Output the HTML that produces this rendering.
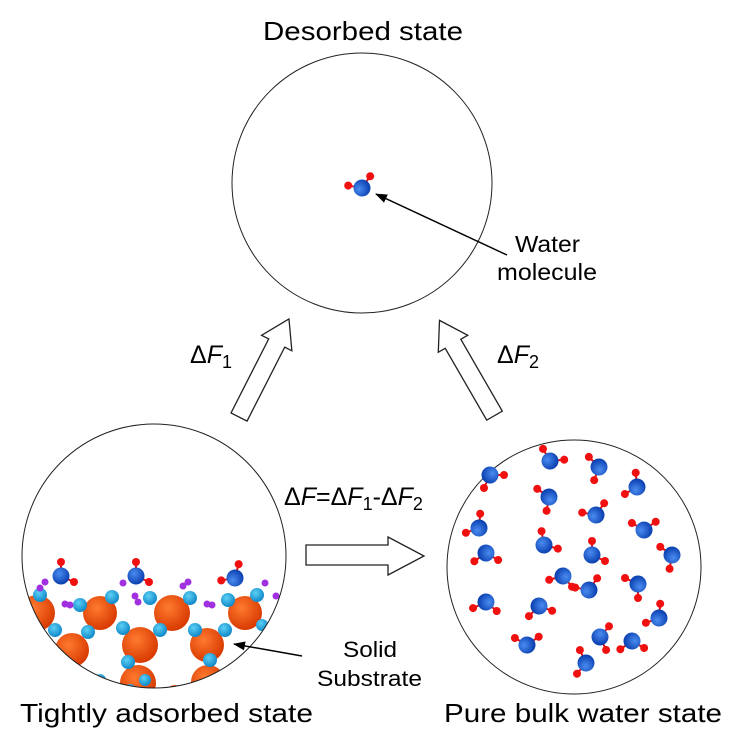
<!DOCTYPE html>
<html><head><style>
body{margin:0;background:#fff;}
svg{display:block;font-family:"Liberation Sans",Arial,sans-serif;}
</style></head><body>
<svg width="740" height="755" viewBox="0 0 740 755">
<defs>
<radialGradient id="b" cx="40%" cy="35%" r="65%"><stop offset="0" stop-color="#4a8cf0"/><stop offset="1" stop-color="#0a3fb0"/></radialGradient>
<radialGradient id="o" cx="40%" cy="35%" r="65%"><stop offset="0" stop-color="#ff7a30"/><stop offset="1" stop-color="#d83a00"/></radialGradient>
<radialGradient id="c" cx="40%" cy="35%" r="65%"><stop offset="0" stop-color="#5cd0f5"/><stop offset="1" stop-color="#1088c8"/></radialGradient>
<g id="w"><line x1="0" y1="0" x2="0" y2="-14" stroke="#e01010" stroke-width="2"/><line x1="0" y1="0" x2="13" y2="6" stroke="#e01010" stroke-width="2"/><circle cx="0" cy="-14" r="4" fill="#f01010"/><circle cx="13" cy="6" r="4" fill="#f01010"/><circle r="8.5" fill="url(#b)"/></g>
<marker id="ah" markerWidth="12" markerHeight="9" refX="11" refY="4.5" orient="auto" markerUnits="userSpaceOnUse"><path d="M0,0L12,4.5L0,9z" fill="#000"/></marker>
<clipPath id="cl"><circle cx="154" cy="556" r="132"/></clipPath>
</defs>
<text x="263" y="40" font-size="26" textLength="200" lengthAdjust="spacingAndGlyphs">Desorbed state</text>
<circle cx="362" cy="183" r="130" fill="#fff" stroke="#222" stroke-width="1"/>
<use href="#w" transform="translate(362,188) rotate(-80)"/>
<line x1="507" y1="255" x2="376" y2="194" stroke="#000" stroke-width="1.5" marker-end="url(#ah)"/>
<text x="515" y="252" font-size="23" textLength="65" lengthAdjust="spacingAndGlyphs">Water</text>
<text x="497" y="280" font-size="23" textLength="100" lengthAdjust="spacingAndGlyphs">molecule</text>

<!-- block arrows -->
<path d="M0,-55 L-17,-28 L-9,-28 L-9,55 L9,55 L9,-28 L17,-28 Z" fill="#fff" stroke="#222" stroke-width="1.3" transform="translate(264,368) rotate(27)"/>
<path d="M0,-55 L-17,-28 L-9,-28 L-9,55 L9,55 L9,-28 L17,-28 Z" fill="#fff" stroke="#222" stroke-width="1.3" transform="translate(467,368) rotate(-30)"/>
<path d="M306,545 L388,545 L388,537 L424,556 L388,575 L388,565 L306,565 Z" fill="#fff" stroke="#222" stroke-width="1.3"/>
<text x="190" y="363" font-size="25">Δ<tspan font-style="italic">F</tspan><tspan font-size="18" dy="5">1</tspan></text>
<text x="497" y="363" font-size="25">Δ<tspan font-style="italic">F</tspan><tspan font-size="18" dy="5">2</tspan></text>
<text x="284" y="505" font-size="25">Δ<tspan font-style="italic">F</tspan>=Δ<tspan font-style="italic">F</tspan><tspan font-size="18" dy="5">1</tspan><tspan dy="-5">-Δ</tspan><tspan font-style="italic">F</tspan><tspan font-size="18" dy="5">2</tspan></text>

<!-- left circle -->
<circle cx="154" cy="556" r="132" fill="#fff"/>
<g clip-path="url(#cl)">
<g fill="url(#o)">
<circle cx="37" cy="613" r="18"/><circle cx="72" cy="650" r="17"/><circle cx="100" cy="613" r="17"/><circle cx="140" cy="645" r="18"/><circle cx="138" cy="683" r="18"/><circle cx="172" cy="613" r="18"/><circle cx="207" cy="645" r="17"/><circle cx="208" cy="682" r="17"/><circle cx="245" cy="613" r="17"/><circle cx="275" cy="640" r="14"/><circle cx="60" cy="690" r="12"/><circle cx="175" cy="695" r="10"/>
</g>
<g fill="url(#c)">
<circle cx="40" cy="595" r="7"/><circle cx="55" cy="630" r="7"/><circle cx="48" cy="680" r="6"/><circle cx="80" cy="605" r="7"/><circle cx="88" cy="632" r="7"/><circle cx="70" cy="670" r="6"/><circle cx="112" cy="597" r="7"/><circle cx="123" cy="628" r="7"/><circle cx="128" cy="662" r="7"/><circle cx="130" cy="690" r="6"/><circle cx="150" cy="598" r="7"/><circle cx="160" cy="630" r="7"/><circle cx="190" cy="598" r="7"/><circle cx="195" cy="630" r="7"/><circle cx="210" cy="660" r="7"/><circle cx="228" cy="600" r="7"/><circle cx="225" cy="630" r="7"/><circle cx="257" cy="595" r="7"/><circle cx="262" cy="625" r="6"/><circle cx="100" cy="680" r="6"/><circle cx="145" cy="680" r="6"/>
</g>
<g fill="#a030e0">
<circle cx="40" cy="588" r="3.5"/><circle cx="45" cy="582" r="3.5"/><circle cx="65" cy="604" r="3.5"/><circle cx="70" cy="605" r="3.5"/><circle cx="123" cy="583" r="3.5"/><circle cx="135" cy="596" r="3.5"/><circle cx="138" cy="602" r="3.5"/><circle cx="183" cy="586" r="3.5"/><circle cx="188" cy="582" r="3.5"/><circle cx="207" cy="604" r="3.5"/><circle cx="212" cy="605" r="3.5"/><circle cx="265" cy="583" r="3.5"/><circle cx="276" cy="596" r="3.5"/>
</g>
</g>
<circle cx="154" cy="556" r="132" fill="none" stroke="#222" stroke-width="1"/>
<use href="#w" transform="translate(61,576) rotate(0)"/>
<use href="#w" transform="translate(136,576) rotate(0)"/>
<use href="#w" transform="translate(235,578) rotate(-100)"/>
<line x1="302" y1="656" x2="234" y2="644" stroke="#000" stroke-width="1.5" marker-end="url(#ah)"/>
<text x="343" y="657" font-size="22" textLength="54" lengthAdjust="spacingAndGlyphs">Solid</text>
<text x="317" y="686" font-size="22" textLength="105" lengthAdjust="spacingAndGlyphs">Substrate</text>
<text x="20" y="722" font-size="26" textLength="293" lengthAdjust="spacingAndGlyphs">Tightly adsorbed state</text>

<!-- right circle -->
<circle cx="574" cy="567" r="127" fill="#fff" stroke="#222" stroke-width="1"/>
<use href="#w" transform="translate(490,475) rotate(90)"/>
<use href="#w" transform="translate(550,461) rotate(-30)"/>
<use href="#w" transform="translate(599,467) rotate(-160)"/>
<use href="#w" transform="translate(637,487) rotate(-120)"/>
<use href="#w" transform="translate(549,497) rotate(-170)"/>
<use href="#w" transform="translate(596,515) rotate(-80)"/>
<use href="#w" transform="translate(479,528) rotate(-110)"/>
<use href="#w" transform="translate(544,545) rotate(-10)"/>
<use href="#w" transform="translate(486,553) rotate(120)"/>
<use href="#w" transform="translate(644,530) rotate(-60)"/>
<use href="#w" transform="translate(592,555) rotate(0)"/>
<use href="#w" transform="translate(672,555) rotate(-170)"/>
<use href="#w" transform="translate(563,576) rotate(140)"/>
<use href="#w" transform="translate(638,584) rotate(-180)"/>
<use href="#w" transform="translate(589,590) rotate(-80)"/>
<use href="#w" transform="translate(486,602) rotate(130)"/>
<use href="#w" transform="translate(539,606) rotate(110)"/>
<use href="#w" transform="translate(659,618) rotate(-110)"/>
<use href="#w" transform="translate(600,637) rotate(40)"/>
<use href="#w" transform="translate(527,645) rotate(-60)"/>
<use href="#w" transform="translate(632,641) rotate(120)"/>
<use href="#w" transform="translate(586,663) rotate(-140)"/>
<text x="444" y="722" font-size="26" textLength="278" lengthAdjust="spacingAndGlyphs">Pure bulk water state</text>
</svg>
</body></html>
